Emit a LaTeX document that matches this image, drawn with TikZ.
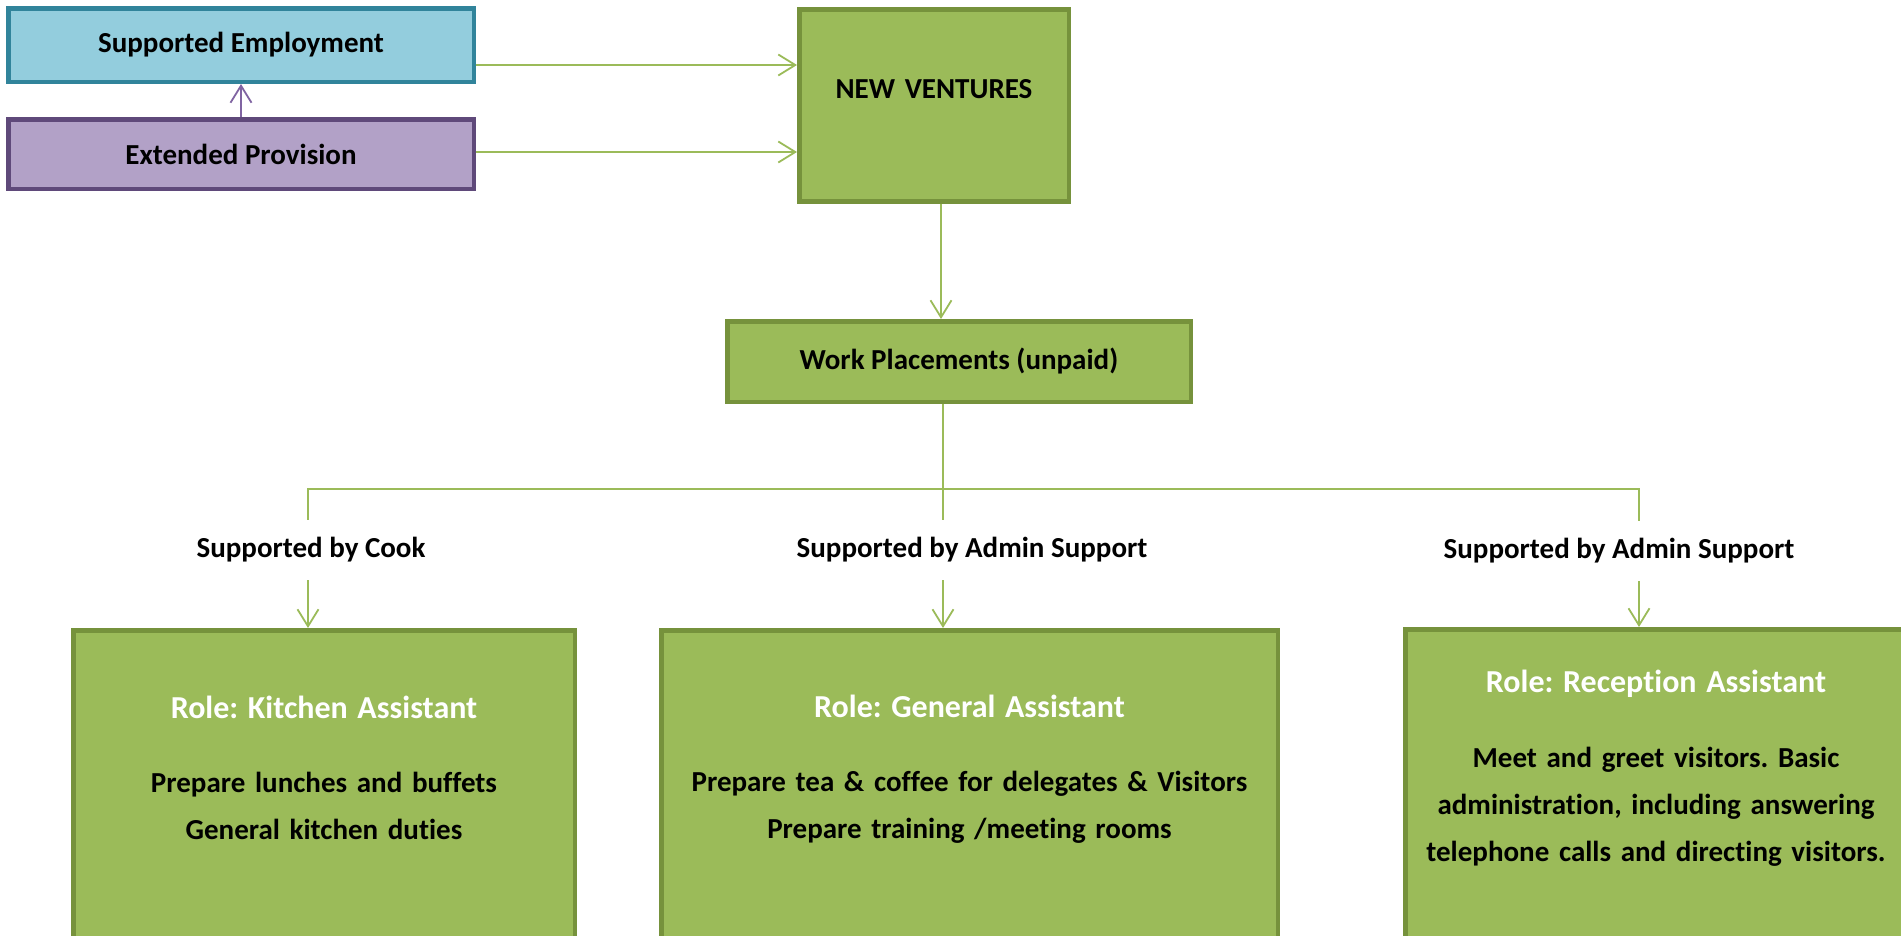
\documentclass[tikz,border=0pt]{standalone}
\usepackage{fontspec}
\setmainfont{Carlito}[Ligatures=NoCommon]
\usepackage{tikz}
\usetikzlibrary{positioning,arrows.meta}
\definecolor{leaf}{HTML}{9BBB59}
\definecolor{leafdark}{HTML}{76923C}
\definecolor{sky}{HTML}{93CDDD}
\definecolor{skydark}{HTML}{31849B}
\definecolor{lilac}{HTML}{B2A1C7}
\definecolor{lilacdark}{HTML}{5F497A}
\definecolor{plum}{HTML}{8064A2}
\frenchspacing
\tikzset{box/.style={draw,line width=4.5pt,inner sep=0pt,align=center,font=\fontsize{29}{47}\selectfont\bfseries}}
\tikzset{role/.style={box,draw=leafdark,fill=leaf,anchor=north,text depth=330pt}}
\tikzset{note/.style={inner sep=0pt,minimum height=60pt,font=\fontsize{29}{35}\selectfont\bfseries}}
\tikzset{link/.style={draw=leaf,line width=1.8pt}}
\tikzset{tip/.style={-{Straight Barb[length=17pt,width=21pt]}}}
\newcommand{\roletitle}[1]{{\fontsize{32}{47}\selectfont\color{white}#1}}

\begin{document}
\begin{tikzpicture}[x=1pt,y=-1pt]
\useasboundingbox (0,0) rectangle (1901,935);
% top row
\node[box,draw=skydark,fill=sky,minimum width=465.5pt,minimum height=73.5pt] (se) at (241,45) {Supported Employment};
\node[box,draw=lilacdark,fill=lilac,minimum width=465.5pt,minimum height=69.5pt] (ep) at (241,154) {Extended Provision};
\node[box,draw=leafdark,fill=leaf,anchor=north,text width=269.5pt,text height=89pt,text depth=103pt] (nv) at (934,7) {NEW VENTURES};
\node[box,draw=leafdark,fill=leaf,minimum width=463.5pt,minimum height=80.5pt] (wp) at (959,361.5) {Work Placements (unpaid)};

% supporters
\node[note] (lkit) at (311,550) {Supported by Cook};
\node[note] (lgen) at (972,550) {Supported by Admin Support};
\node[note] (lrec) at (1619,551) {Supported by Admin Support};

% roles
\node[role,text width=501.5pt,text height=88pt] (kit) at (324,628)
  {\roletitle{Role: Kitchen Assistant}\\[27pt]Prepare lunches and buffets\\General kitchen duties};
\node[role,text width=616.5pt,text height=87pt] (gen) at (969.5,628)
  {\roletitle{Role: General Assistant}\\[27pt]Prepare tea \& coffee for delegates \& Visitors\\Prepare training /meeting rooms};
\node[role,text width=501.5pt,text height=63pt] (rec) at (1656,627)
  {\roletitle{Role: Reception Assistant}\\[28pt]Meet and greet visitors. Basic\\administration, including answering\\telephone calls and directing visitors.};

\coordinate (split) at (943,489);
\coordinate (jk) at (308,489);
\coordinate (jr) at (1639,489);

% connectors
\draw[link,tip] ([yshift=-20pt]se.east) -- ([yshift=-20pt]se.east -| nv.west);
\draw[link,tip] ([yshift=2pt]ep.east) -- ([yshift=2pt]ep.east -| nv.west);
\draw[draw=plum,line width=1.8pt,tip] (ep.north) -- (se.south);
\draw[link,tip] ([xshift=7pt]nv.south) -- ([xshift=7pt]nv.south |- wp.north);
\draw[link] (wp.south -| split) -- (split |- lgen.north);
\draw[link] (lkit.north -| jk) |- (jr) -- (lrec.north -| jr);
\draw[link,tip] (lkit.south -| jk) -- (kit.north -| jk);
\draw[link,tip] (lgen.south -| split) -- (gen.north -| split);
\draw[link,tip] (lrec.south -| jr) -- (rec.north -| jr);
\end{tikzpicture}
\end{document}
